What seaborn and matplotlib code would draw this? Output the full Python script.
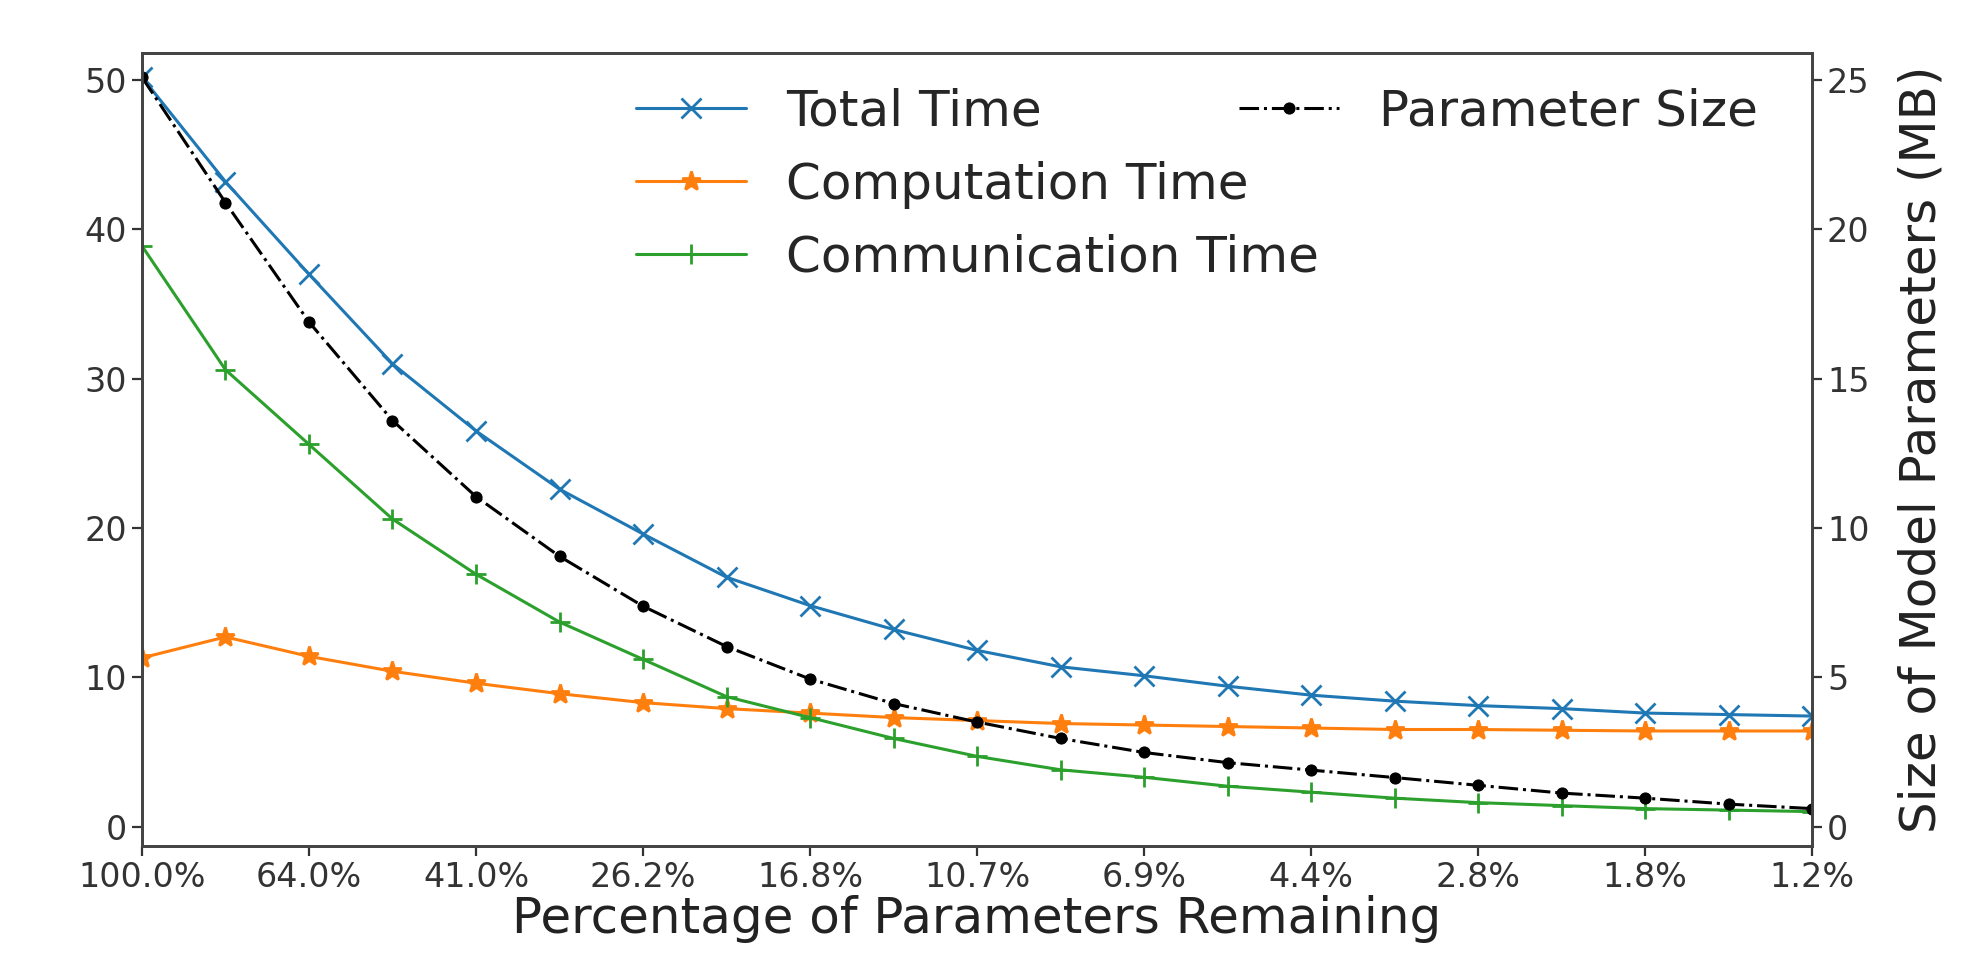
import matplotlib
matplotlib.use("Agg")
import matplotlib.pyplot as plt
import seaborn as sns
import numpy as np

# pruning steps: each step keeps 80% of the previous parameters
step_idx = list(range(21))
tick_idx = list(range(0, 21, 2))
tick_labels = ['100.0%', '64.0%', '41.0%', '26.2%', '16.8%', '10.7%',
               '6.9%', '4.4%', '2.8%', '1.8%', '1.2%']

total_time = [50.2, 43.2, 37.0, 31.0, 26.5, 22.6, 19.6, 16.7, 14.8, 13.2, 11.8,
              10.7, 10.1, 9.4, 8.8, 8.4, 8.1, 7.9, 7.6, 7.5, 7.4]
computation_time = [11.3, 12.7, 11.4, 10.4, 9.6, 8.9, 8.3, 7.9, 7.6, 7.3, 7.1,
                    6.9, 6.8, 6.7, 6.6, 6.5, 6.5, 6.45, 6.4, 6.4, 6.4]
communication_time = [38.9, 30.6, 25.6, 20.6, 16.9, 13.7, 11.2, 8.7, 7.3, 5.9, 4.7,
                      3.8, 3.3, 2.7, 2.3, 1.9, 1.6, 1.4, 1.2, 1.1, 1.0]
param_size_mb = [25.1, 20.9, 16.9, 13.6, 11.05, 9.05, 7.38, 6.03, 4.94, 4.12, 3.5,
                 2.95, 2.48, 2.14, 1.89, 1.64, 1.38, 1.12, 0.95, 0.75, 0.6]

sns.set_style('ticks')
plt.rcParams['font.family'] = ['DejaVu Sans']

fig, ax = plt.subplots(figsize=(19.85, 9.69), dpi=100)
fig.subplots_adjust(left=0.0715, right=0.913, top=0.945, bottom=0.127)
ax2 = ax.twinx()

lw = 2.2
ms = 14
series = [
    (total_time, 'Total Time', 'x', '#1f77b4'),
    (computation_time, 'Computation Time', '*', '#ff7f0e'),
    (communication_time, 'Communication Time', '+', '#2ca02c'),
]
for vals, name, mk, col in series:
    sns.lineplot(x=step_idx, y=vals, ax=ax, label=name, color=col, lw=lw,
                 marker=mk, markersize=ms, markeredgecolor=col,
                 markerfacecolor=col, markeredgewidth=2)

sns.lineplot(x=step_idx, y=param_size_mb, ax=ax2, label='Parameter Size',
             color='black', lw=lw, linestyle='-.', marker='.', markersize=16,
             markeredgecolor='black', markerfacecolor='black')

ax.set_xlim(0, 20)
ax.set_ylim(-1.3, 51.8)
ax2.set_ylim(-0.65, 25.9)
ax.set_xticks(tick_idx)
ax.set_xticklabels(tick_labels)
ax.set_yticks([0, 10, 20, 30, 40, 50])
ax2.set_yticks([0, 5, 10, 15, 20, 25])

ax.tick_params(labelsize=24, length=7, width=1.6, colors='#333333')
ax2.tick_params(labelsize=24, length=7, width=1.6, colors='#333333')
for a in (ax, ax2):
    for sp in a.spines.values():
        sp.set_linewidth(2)
        sp.set_color('#444444')

ax.set_xlabel('Percentage of Parameters Remaining', fontsize=36, color='#222222',
              labelpad=1)
ax.set_ylabel('')
ax2.set_ylabel('Size of Model Parameters (MB)', fontsize=36, color='#222222',
               labelpad=20)

leg1 = ax.legend(loc='upper left', bbox_to_anchor=(0.284, 0.982), frameon=False,
                 fontsize=36, borderaxespad=0, handlelength=2.2)
leg1.remove()
ax2.add_artist(leg1)
ax2.legend(loc='upper left', bbox_to_anchor=(0.645, 0.982), frameon=False,
           fontsize=36, borderaxespad=0, handlelength=2.0)

fig.savefig('out.png', dpi=100)
